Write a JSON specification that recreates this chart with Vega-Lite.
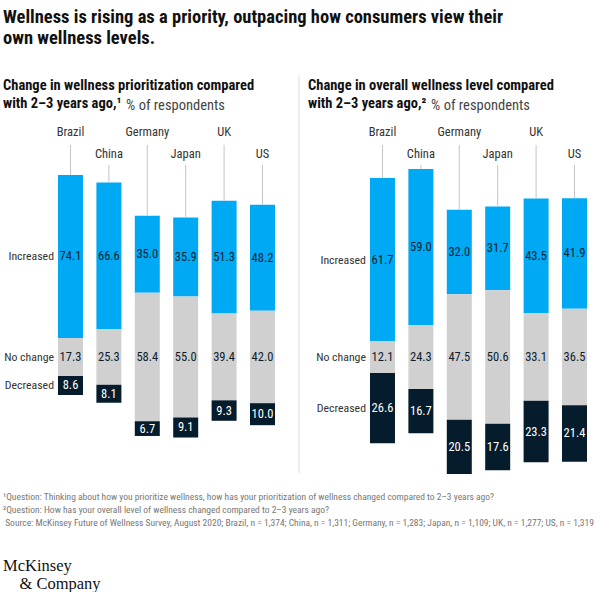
{
  "$schema": "https://vega.github.io/schema/vega-lite/v6.json",
  "background": "white",
  "padding": {"left": 3, "top": 8, "right": 0, "bottom": 0},
  "title": {
    "text": ["Wellness is rising as a priority, outpacing how consumers view their", "own wellness levels."],
    "anchor": "start",
    "font": "Roboto Condensed, Liberation Sans Narrow, sans-serif",
    "fontSize": 18.5,
    "fontWeight": "bold",
    "color": "#111111",
    "lineHeight": 21,
    "offset": 27
  },
  "datasets": {
    "prioritization": [
      {"country": "Brazil", "response": "Increased", "value": 74.1},
      {"country": "Brazil", "response": "No change", "value": 17.3},
      {"country": "Brazil", "response": "Decreased", "value": 8.6},
      {"country": "China", "response": "Increased", "value": 66.6},
      {"country": "China", "response": "No change", "value": 25.3},
      {"country": "China", "response": "Decreased", "value": 8.1},
      {"country": "Germany", "response": "Increased", "value": 35.0},
      {"country": "Germany", "response": "No change", "value": 58.4},
      {"country": "Germany", "response": "Decreased", "value": 6.7},
      {"country": "Japan", "response": "Increased", "value": 35.9},
      {"country": "Japan", "response": "No change", "value": 55.0},
      {"country": "Japan", "response": "Decreased", "value": 9.1},
      {"country": "UK", "response": "Increased", "value": 51.3},
      {"country": "UK", "response": "No change", "value": 39.4},
      {"country": "UK", "response": "Decreased", "value": 9.3},
      {"country": "US", "response": "Increased", "value": 48.2},
      {"country": "US", "response": "No change", "value": 42.0},
      {"country": "US", "response": "Decreased", "value": 10.0}
    ],
    "level": [
      {"country": "Brazil", "response": "Increased", "value": 61.7},
      {"country": "Brazil", "response": "No change", "value": 12.1},
      {"country": "Brazil", "response": "Decreased", "value": 26.6},
      {"country": "China", "response": "Increased", "value": 59.0},
      {"country": "China", "response": "No change", "value": 24.3},
      {"country": "China", "response": "Decreased", "value": 16.7},
      {"country": "Germany", "response": "Increased", "value": 32.0},
      {"country": "Germany", "response": "No change", "value": 47.5},
      {"country": "Germany", "response": "Decreased", "value": 20.5},
      {"country": "Japan", "response": "Increased", "value": 31.7},
      {"country": "Japan", "response": "No change", "value": 50.6},
      {"country": "Japan", "response": "Decreased", "value": 17.6},
      {"country": "UK", "response": "Increased", "value": 43.5},
      {"country": "UK", "response": "No change", "value": 33.1},
      {"country": "UK", "response": "Decreased", "value": 23.3},
      {"country": "US", "response": "Increased", "value": 41.9},
      {"country": "US", "response": "No change", "value": 36.5},
      {"country": "US", "response": "Decreased", "value": 21.4}
    ]
  },
  "vconcat": [
    {
      "title": {
        "text": [
          "¹Question: Thinking about how you prioritize wellness, how has your prioritization of wellness changed compared to 2–3 years ago?",
          "²Question: How has your overall level of wellness changed compared to 2–3 years ago?",
          "\u200b\u00a0Source: McKinsey Future of Wellness Survey, August 2020; Brazil, n = 1,374; China, n = 1,311; Germany, n = 1,283; Japan, n = 1,109; UK, n = 1,277; US, n = 1,319"
        ],
        "orient": "bottom",
        "anchor": "start",
        "font": "Roboto Condensed, Liberation Sans Narrow, sans-serif",
        "fontSize": 9.5,
        "fontWeight": "normal",
        "color": "#777777",
        "lineHeight": 13,
        "offset": 14,
        "subtitle": ["McKinsey", "\u200b\u00a0\u00a0\u00a0\u00a0& Company"],
        "subtitleFont": "Liberation Serif, DejaVu Serif, serif",
        "subtitleFontSize": 16.5,
        "subtitleColor": "#111111",
        "subtitleLineHeight": 18,
        "subtitlePadding": 30
      },
      "spacing": 8,
      "hconcat": [
        {
          "width": 272,
          "height": 360,
          "title": {
            "text": ["Change in wellness prioritization compared", "with 2–3 years ago,¹"],
            "subtitle": "\u200b\u00a0\u00a0\u00a0\u00a0\u00a0\u00a0\u00a0\u00a0\u00a0\u00a0\u00a0\u00a0\u00a0\u00a0\u00a0\u00a0\u00a0\u00a0\u00a0\u00a0\u00a0\u00a0\u00a0\u00a0\u00a0\u00a0\u00a0\u00a0\u00a0\u00a0\u00a0\u00a0\u00a0\u00a0\u00a0\u00a0\u00a0% of respondents",
            "anchor": "start",
            "font": "Roboto Condensed, Liberation Sans Narrow, sans-serif",
            "fontSize": 14.5,
            "fontWeight": "bold",
            "color": "#111111",
            "lineHeight": 18,
            "subtitleFont": "Roboto Condensed, Liberation Sans Narrow, sans-serif",
            "subtitleFontSize": 14.5,
            "subtitleFontWeight": "normal",
            "subtitleColor": "#444444",
            "subtitlePadding": -13,
            "offset": 5
          },
          "data": {"name": "prioritization"},
          "transform": [
            {"calculate": "indexof(['Decreased','No change','Increased'], datum.response)", "as": "ord"},
            {"stack": "value", "groupby": ["country"], "sort": [{"field": "ord", "order": "ascending"}], "as": ["s0", "s1"]},
            {"calculate": "datum.response === 'No change' ? (datum.s0 + datum.s1) / 2 : 0", "as": "c0"},
            {"joinaggregate": [{"op": "max", "field": "c0", "as": "c"}], "groupby": ["country"]},
            {"calculate": "datum.s0 - datum.c", "as": "lo"},
            {"calculate": "datum.s1 - datum.c", "as": "hi"},
            {"calculate": "(datum.s0 + datum.s1) / 2 - datum.c", "as": "mid"}
          ],
          "encoding": {
            "x": {"field": "country", "type": "nominal", "scale": {"paddingInner": 0.349, "paddingOuter": 0.716, "align": 1}, "axis": null}
          },
          "layer": [
            {
              "mark": {"type": "bar"},
              "encoding": {
                "y": {"field": "lo", "type": "quantitative", "scale": {"domain": [-55, 108.6], "nice": false, "zero": false}, "axis": null},
                "y2": {"field": "hi"},
                "color": {"field": "response", "type": "nominal", "scale": {"domain": ["Increased", "No change", "Decreased"], "range": ["#00A9F4", "#D0D0D0", "#051C2C"]}, "legend": null}
              }
            },
            {
              "mark": {"type": "text", "font": "Roboto Condensed, Liberation Sans Narrow, sans-serif", "fontSize": 12.5, "baseline": "middle"},
              "encoding": {
                "y": {"field": "mid", "type": "quantitative"},
                "text": {"field": "value", "type": "quantitative", "format": ".1f"},
                "color": {"condition": {"test": "datum.response === 'Decreased'", "value": "#ffffff"}, "value": "#0b1d2e"}
              }
            },
            {
              "transform": [{"filter": "datum.country === 'Brazil'"}],
              "mark": {"type": "text", "font": "Roboto Condensed, Liberation Sans Narrow, sans-serif", "fontSize": 11.8, "baseline": "middle", "align": "right", "dx": -4, "color": "#333333"},
              "encoding": {
                "x": {"field": "country", "type": "nominal", "bandPosition": 0},
                "y": {"field": "mid", "type": "quantitative"},
                "text": {"field": "response", "type": "nominal"}
              }
            },
            {
              "transform": [{"filter": "datum.response === 'Increased' && indexof(['Brazil','Germany','UK'], datum.country) >= 0"}],
              "mark": {"type": "rule", "color": "#c4c4c4", "strokeWidth": 1},
              "encoding": {"y": {"field": "hi", "type": "quantitative"}, "y2": {"datum": 96.4}}
            },
            {
              "transform": [{"filter": "datum.response === 'Increased' && indexof(['China','Japan','US'], datum.country) >= 0"}],
              "mark": {"type": "rule", "color": "#c4c4c4", "strokeWidth": 1},
              "encoding": {"y": {"field": "hi", "type": "quantitative"}, "y2": {"datum": 87.3}}
            },
            {
              "transform": [{"filter": "datum.response === 'Increased' && indexof(['Brazil','Germany','UK'], datum.country) >= 0"}],
              "mark": {"type": "text", "font": "Roboto Condensed, Liberation Sans Narrow, sans-serif", "fontSize": 12.5, "baseline": "middle", "color": "#333333"},
              "encoding": {"y": {"datum": 102.3}, "text": {"field": "country", "type": "nominal"}}
            },
            {
              "transform": [{"filter": "datum.response === 'Increased' && indexof(['China','Japan','US'], datum.country) >= 0"}],
              "mark": {"type": "text", "font": "Roboto Condensed, Liberation Sans Narrow, sans-serif", "fontSize": 12.5, "baseline": "middle", "color": "#333333"},
              "encoding": {"y": {"datum": 92.3}, "text": {"field": "country", "type": "nominal"}}
            }
          ]
        },
        {
          "width": 16,
          "height": 360,
          "data": {"values": [{"divider": "panels"}]},
          "mark": {"type": "rule", "color": "#dddddd", "strokeWidth": 1},
          "encoding": {
            "x": {"value": 16},
            "y": {"datum": 1.119, "type": "quantitative", "scale": {"domain": [0, 1], "nice": false}, "axis": null},
            "y2": {"datum": 0.014}
          }
        },
        {
          "width": 279,
          "height": 360,
          "title": {
            "text": ["Change in overall wellness level compared", "with 2–3 years ago,²"],
            "subtitle": "\u200b\u00a0\u00a0\u00a0\u00a0\u00a0\u00a0\u00a0\u00a0\u00a0\u00a0\u00a0\u00a0\u00a0\u00a0\u00a0\u00a0\u00a0\u00a0\u00a0\u00a0\u00a0\u00a0\u00a0\u00a0\u00a0\u00a0\u00a0\u00a0\u00a0\u00a0\u00a0\u00a0\u00a0\u00a0\u00a0\u00a0\u00a0% of respondents",
            "anchor": "start",
            "font": "Roboto Condensed, Liberation Sans Narrow, sans-serif",
            "fontSize": 14.5,
            "fontWeight": "bold",
            "color": "#111111",
            "lineHeight": 18,
            "subtitleFont": "Roboto Condensed, Liberation Sans Narrow, sans-serif",
            "subtitleFontSize": 14.5,
            "subtitleFontWeight": "normal",
            "subtitleColor": "#444444",
            "subtitlePadding": -13,
            "offset": 5
          },
          "data": {"name": "level"},
          "transform": [
            {"calculate": "indexof(['Decreased','No change','Increased'], datum.response)", "as": "ord"},
            {"stack": "value", "groupby": ["country"], "sort": [{"field": "ord", "order": "ascending"}], "as": ["s0", "s1"]},
            {"calculate": "datum.response === 'No change' ? (datum.s0 + datum.s1) / 2 : 0", "as": "c0"},
            {"joinaggregate": [{"op": "max", "field": "c0", "as": "c"}], "groupby": ["country"]},
            {"calculate": "datum.s0 - datum.c", "as": "lo"},
            {"calculate": "datum.s1 - datum.c", "as": "hi"},
            {"calculate": "(datum.s0 + datum.s1) / 2 - datum.c", "as": "mid"}
          ],
          "encoding": {
            "x": {"field": "country", "type": "nominal", "scale": {"paddingInner": 0.349, "paddingOuter": 0.807, "align": 1}, "axis": null}
          },
          "layer": [
            {
              "mark": {"type": "bar"},
              "encoding": {
                "y": {"field": "lo", "type": "quantitative", "scale": {"domain": [-45.8, 90.5], "nice": false, "zero": false}, "axis": null},
                "y2": {"field": "hi"},
                "color": {"field": "response", "type": "nominal", "scale": {"domain": ["Increased", "No change", "Decreased"], "range": ["#00A9F4", "#D0D0D0", "#051C2C"]}, "legend": null}
              }
            },
            {
              "mark": {"type": "text", "font": "Roboto Condensed, Liberation Sans Narrow, sans-serif", "fontSize": 12.5, "baseline": "middle"},
              "encoding": {
                "y": {"field": "mid", "type": "quantitative"},
                "text": {"field": "value", "type": "quantitative", "format": ".1f"},
                "color": {"condition": {"test": "datum.response === 'Decreased'", "value": "#ffffff"}, "value": "#0b1d2e"}
              }
            },
            {
              "transform": [{"filter": "datum.country === 'Brazil'"}],
              "mark": {"type": "text", "font": "Roboto Condensed, Liberation Sans Narrow, sans-serif", "fontSize": 11.8, "baseline": "middle", "align": "right", "dx": -4, "color": "#333333"},
              "encoding": {
                "x": {"field": "country", "type": "nominal", "bandPosition": 0},
                "y": {"field": "mid", "type": "quantitative"},
                "text": {"field": "response", "type": "nominal"}
              }
            },
            {
              "transform": [{"filter": "datum.response === 'Increased' && indexof(['Brazil','Germany','UK'], datum.country) >= 0"}],
              "mark": {"type": "rule", "color": "#c4c4c4", "strokeWidth": 1},
              "encoding": {"y": {"field": "hi", "type": "quantitative"}, "y2": {"datum": 80.3}}
            },
            {
              "transform": [{"filter": "datum.response === 'Increased' && indexof(['China','Japan','US'], datum.country) >= 0"}],
              "mark": {"type": "rule", "color": "#c4c4c4", "strokeWidth": 1},
              "encoding": {"y": {"field": "hi", "type": "quantitative"}, "y2": {"datum": 72.7}}
            },
            {
              "transform": [{"filter": "datum.response === 'Increased' && indexof(['Brazil','Germany','UK'], datum.country) >= 0"}],
              "mark": {"type": "text", "font": "Roboto Condensed, Liberation Sans Narrow, sans-serif", "fontSize": 12.5, "baseline": "middle", "color": "#333333"},
              "encoding": {"y": {"datum": 85.2}, "text": {"field": "country", "type": "nominal"}}
            },
            {
              "transform": [{"filter": "datum.response === 'Increased' && indexof(['China','Japan','US'], datum.country) >= 0"}],
              "mark": {"type": "text", "font": "Roboto Condensed, Liberation Sans Narrow, sans-serif", "fontSize": 12.5, "baseline": "middle", "color": "#333333"},
              "encoding": {"y": {"datum": 76.9}, "text": {"field": "country", "type": "nominal"}}
            }
          ]
        }
      ]
    }
  ],
  "config": {"view": {"stroke": null}}
}
